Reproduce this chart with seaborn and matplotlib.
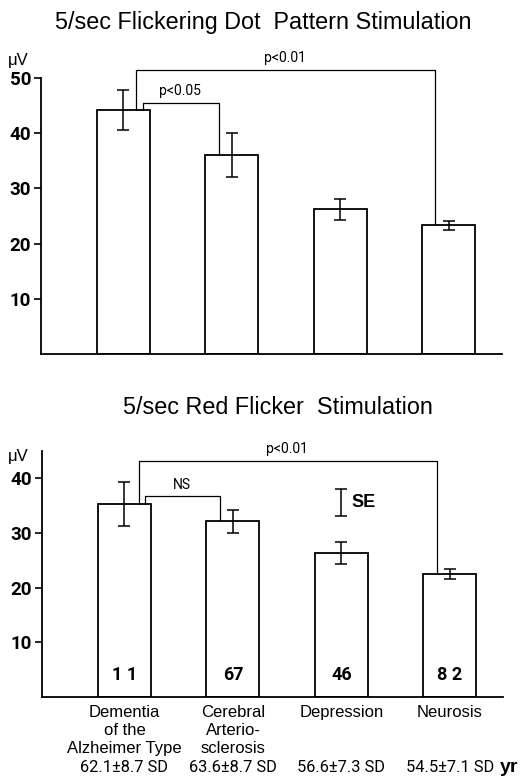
import matplotlib
matplotlib.use("Agg")
import matplotlib.pyplot as plt
import seaborn as sns
import pandas as pd

# ---- data ----
categories = ["Dementia\nof the\nAlzheimer Type", "Cerebral\nArterio-\nsclerosis", "Depression", "Neurosis"]
dot_mean = [44.2, 36.1, 26.2, 23.3]
dot_se = [3.7, 4.0, 1.9, 0.8]
red_mean = [35.3, 32.1, 26.3, 22.5]
red_se = [4.0, 2.1, 2.0, 0.85]
counts = ["1 1", "67", "46", "8 2"]
ages = ["62.1±8.7 SD", "63.6±8.7 SD", "56.6±7.3 SD", "54.5±7.1 SD"]
top_ticks = [10, 20, 30, 40, 50]
bot_ticks = [10, 20, 30, 40]
# brackets: (left index, right index, height, label)
top_brackets = [(0, 3, 51.5, "p<0.01"), (0, 1, 45.5, "p<0.05")]
bot_brackets = [(0, 3, 43.2, "p<0.01"), (0, 1, 36.7, "NS")]
se_legend = (35.6, 2.5)

sns.set_theme(style="white")
NARROW = ["Roboto", "DejaVu Sans"]
REG = ["Liberation Sans", "DejaVu Sans"]
plt.rcParams["font.family"] = REG
plt.rcParams["text.color"] = "black"
plt.rcParams["xtick.color"] = "black"
plt.rcParams["ytick.color"] = "black"
plt.rcParams["axes.labelcolor"] = "black"

fig = plt.figure(figsize=(5.31, 7.76), dpi=100)
ax1 = fig.add_axes([0.0772, 0.5438, 0.8682, 0.3984])
ax2 = fig.add_axes([0.0791, 0.1018, 0.8682, 0.3313])

def draw(ax, means, ses, ymax, spine_top, ticks, brackets, leg_off):
    df = pd.DataFrame({"cat": categories, "val": means})
    sns.barplot(data=df, x="cat", y="val", ax=ax, color="white", edgecolor="black",
                linewidth=1.3, width=0.49, errorbar=None, saturation=1)
    ax.errorbar(range(len(means)), means, yerr=ses, fmt="none", ecolor="black",
                elinewidth=1.1, capsize=4.5, capthick=1.1)
    ax.set_xlim(-0.76, 3.49)
    ax.set_ylim(0, ymax)
    for s in ["top", "right"]:
        ax.spines[s].set_visible(False)
    ax.spines["left"].set_bounds(0, spine_top)
    for s in ["left", "bottom"]:
        ax.spines[s].set_linewidth(1.3)
        ax.spines[s].set_color("black")
    ax.set_yticks(ticks)
    ax.set_yticklabels([str(t) for t in ticks], fontweight="bold", family=NARROW, fontsize=13.5)
    ax.tick_params(axis="y", left=True, length=5, width=1.2, pad=2, color="black", labelcolor="black")
    ax.set_xlabel("")
    ax.set_ylabel("")
    for (i, j, h, lab), (lo, ro, tx) in zip(brackets, leg_off):
        xl, xr = i + lo, j + ro
        ax.plot([xl, xl, xr, xr], [means[i], h, h, means[j]], color="black", lw=0.9)
        ax.text(tx, h + 0.8, lab, ha="center", va="bottom", fontsize=10, family=NARROW)

draw(ax1, dot_mean, dot_se, 56, 50, top_ticks, top_brackets,
     [(0.115, -0.13, 1.49), (0.18, -0.12, 0.52)])
draw(ax2, red_mean, red_se, 47, 45, bot_ticks, bot_brackets,
     [(0.13, -0.12, 1.5), (0.19, -0.12, 0.53)])

ax1.set_xticks(range(4))
ax1.set_xticklabels([])
ax1.tick_params(axis="x", length=0)

ax2.set_xticks(range(4))
ax2.set_xticklabels(categories, fontsize=12, linespacing=1.25, color="black")
ax2.tick_params(axis="x", length=0, pad=6)

# counts
for i, c in enumerate(counts):
    ax2.text(i, 4.0, c, ha="center", va="center", fontsize=13, fontweight="bold", family=NARROW)

# ages
tr = ax2.get_xaxis_transform()
for i, a in enumerate(ages):
    ax2.text(i, -0.276, a, transform=tr, ha="center", va="center", fontsize=11.8, family=NARROW)
ax2.text(3.465, -0.276, "yr", transform=tr, ha="left", va="center", fontsize=14, fontweight="bold")

# SE legend
ax2.errorbar([2.0], [se_legend[0]], yerr=[se_legend[1]], fmt="none", ecolor="black",
             elinewidth=1.1, capsize=4.5, capthick=1.1)
ax2.text(2.09, se_legend[0], "SE", ha="left", va="center", fontsize=13, fontweight="bold")

# titles and unit labels
fig.text(263 / 531, 1 - 23 / 776, "5/sec Flickering Dot  Pattern Stimulation",
         ha="center", va="center", fontsize=16.8)
fig.text(278 / 531, 1 - 407 / 776, "5/sec Red Flicker  Stimulation",
         ha="center", va="center", fontsize=16.8)
fig.text(8 / 531, 1 - 60 / 776, "μV", ha="left", va="center", fontsize=12)
fig.text(8 / 531, 1 - 457 / 776, "μV", ha="left", va="center", fontsize=12)

fig.savefig("out.png", dpi=100)
